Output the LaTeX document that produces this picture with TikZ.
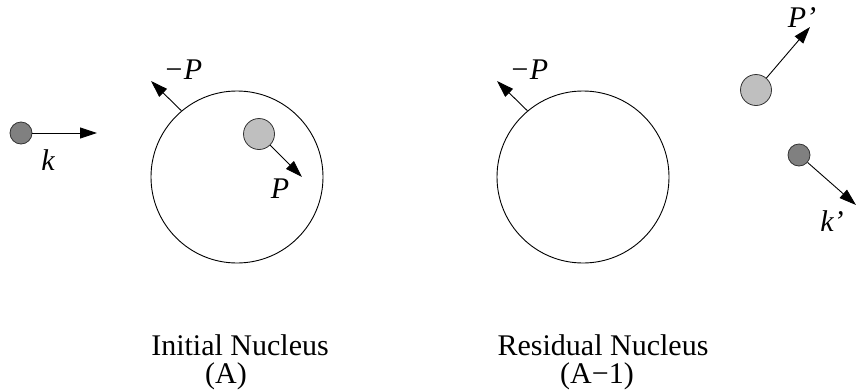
\documentclass[tikz,border=0pt]{standalone}
\usepackage{fontspec}
\setmainfont{Liberation Serif}
\usetikzlibrary{arrows.meta}

\begin{document}
\begin{tikzpicture}[
    x=1pt, y=-1pt,
    >={Triangle[length=17pt,width=11pt]},
    nucleus/.style={
        circle, draw=black, line width=0.9pt, fill=white,
        minimum size=172pt, inner sep=0pt
    },
    nucleon/.style={
        circle, draw=black!80, line width=0.8pt, fill=black!25,
        minimum size=31pt, inner sep=0pt
    },
    probe/.style={
        circle, draw=black!80, line width=0.8pt, fill=black!50,
        minimum size=22pt, inner sep=0pt
    },
    mom/.style={->, line width=0.9pt, draw=black},
    lbl/.style={font=\fontsize{30}{30}\selectfont\itshape, inner sep=0pt},
    caption/.style={font=\fontsize{30}{30}\selectfont, anchor=base, inner sep=0pt},
]
\useasboundingbox (0,0) rectangle (856,389);

% ── Incoming probe ───────────────────────────────────────────
\node[probe] (kin) at (21,133) {};
\coordinate (kinTip) at (97,133);
\draw[mom] (kin.east) -- (kinTip);
\node[lbl] (kLbl) at (48,160) {k};

% ── Initial nucleus (A) ──────────────────────────────────────
\node[nucleus] (nucA) at (237,177) {};
\node[nucleon] (pA) at (259,134) {};
\coordinate (pATip) at (302,177);
\draw[mom] (pA.-45) -- (pATip);
\node[lbl] (pLbl) at (280,189) {P};

\coordinate (mpATip) at (151,81);
\draw[mom] (nucA.130) -- (mpATip);
\node[lbl] (mpLbl) at (183,70) {\char"2212 P};

% ── Residual nucleus (A-1) ───────────────────────────────────
\node[nucleus] (nucR) at (583,177) {};
\coordinate (mpRTip) at (497,81);
\draw[mom] (nucR.130) -- (mpRTip);
\node[lbl] (mpRLbl) at (529,70) {\char"2212 P};

% ── Outgoing particles ───────────────────────────────────────
\node[nucleon] (pOut) at (756,90) {};
\coordinate (pOutTip) at (810,27);
\draw[mom] (pOut.49) -- (pOutTip);
\node[lbl] (pOutLbl) at (802,18) {P’};

\node[probe] (kOut) at (799,155) {};
\coordinate (kOutTip) at (856,205);
\draw[mom] (kOut.-41) -- (kOutTip);
\node[lbl] (kOutLbl) at (832,221) {k’};

% ── Captions ─────────────────────────────────────────────────
\node[caption] (capA)  at (240,355) {Initial Nucleus};
\node[caption] (capA2) at (226,383) {(A)};
\node[caption] (capR)  at (603,355) {Residual Nucleus};
\node[caption] (capR2) at (597,383) {(A\char"2212 1)};

\end{tikzpicture}
\end{document}
